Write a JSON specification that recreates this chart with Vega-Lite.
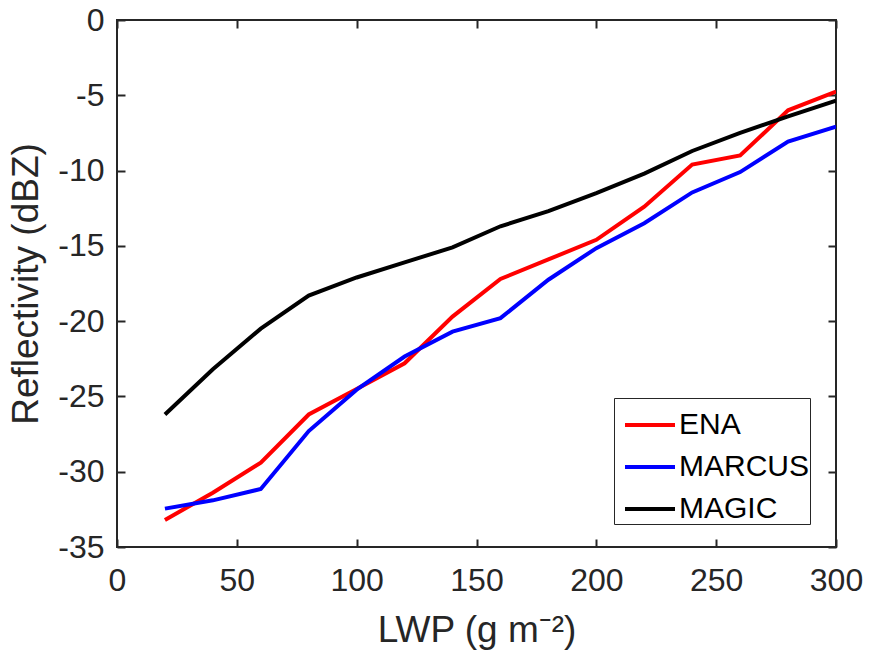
{
  "$schema": "https://vega.github.io/schema/vega-lite/v6.json",
  "width": 719,
  "height": 527,
  "autosize": "none",
  "padding": {"left": 117, "top": 20, "right": 33, "bottom": 111},
  "background": "white",
  "config": {
    "font": "Liberation Sans",
    "view": {"stroke": "#262626", "strokeWidth": 2},
    "axis": {"grid": false, "domain": false, "tickColor": "#262626", "tickWidth": 2, "tickSize": 8, "offset": -8, "labelColor": "#262626", "titleColor": "#262626", "labelFontSize": 32, "titleFontSize": 37, "titleFontWeight": "normal", "labelFont": "Liberation Sans", "titleFont": "Liberation Sans", "labelFlush": false, "labelOverlap": false, "labelExpr": "toString(datum.value)"}
  },
  "data": {"values": [
    {"lwp": 20, "dbz": -33.2, "site": "ENA"},
    {"lwp": 40, "dbz": -31.4, "site": "ENA"},
    {"lwp": 60, "dbz": -29.4, "site": "ENA"},
    {"lwp": 80, "dbz": -26.2, "site": "ENA"},
    {"lwp": 100, "dbz": -24.5, "site": "ENA"},
    {"lwp": 120, "dbz": -22.8, "site": "ENA"},
    {"lwp": 140, "dbz": -19.7, "site": "ENA"},
    {"lwp": 160, "dbz": -17.2, "site": "ENA"},
    {"lwp": 180, "dbz": -15.9, "site": "ENA"},
    {"lwp": 200, "dbz": -14.6, "site": "ENA"},
    {"lwp": 220, "dbz": -12.4, "site": "ENA"},
    {"lwp": 240, "dbz": -9.6, "site": "ENA"},
    {"lwp": 260, "dbz": -9.0, "site": "ENA"},
    {"lwp": 280, "dbz": -6.0, "site": "ENA"},
    {"lwp": 300, "dbz": -4.75, "site": "ENA"},
    {"lwp": 20, "dbz": -32.45, "site": "MARCUS"},
    {"lwp": 40, "dbz": -31.9, "site": "MARCUS"},
    {"lwp": 60, "dbz": -31.15, "site": "MARCUS"},
    {"lwp": 80, "dbz": -27.3, "site": "MARCUS"},
    {"lwp": 100, "dbz": -24.55, "site": "MARCUS"},
    {"lwp": 120, "dbz": -22.35, "site": "MARCUS"},
    {"lwp": 140, "dbz": -20.7, "site": "MARCUS"},
    {"lwp": 160, "dbz": -19.8, "site": "MARCUS"},
    {"lwp": 180, "dbz": -17.25, "site": "MARCUS"},
    {"lwp": 200, "dbz": -15.15, "site": "MARCUS"},
    {"lwp": 220, "dbz": -13.5, "site": "MARCUS"},
    {"lwp": 240, "dbz": -11.45, "site": "MARCUS"},
    {"lwp": 260, "dbz": -10.1, "site": "MARCUS"},
    {"lwp": 280, "dbz": -8.07, "site": "MARCUS"},
    {"lwp": 300, "dbz": -7.08, "site": "MARCUS"},
    {"lwp": 20, "dbz": -26.2, "site": "MAGIC"},
    {"lwp": 40, "dbz": -23.2, "site": "MAGIC"},
    {"lwp": 60, "dbz": -20.5, "site": "MAGIC"},
    {"lwp": 80, "dbz": -18.3, "site": "MAGIC"},
    {"lwp": 100, "dbz": -17.1, "site": "MAGIC"},
    {"lwp": 120, "dbz": -16.1, "site": "MAGIC"},
    {"lwp": 140, "dbz": -15.1, "site": "MAGIC"},
    {"lwp": 160, "dbz": -13.7, "site": "MAGIC"},
    {"lwp": 180, "dbz": -12.7, "site": "MAGIC"},
    {"lwp": 200, "dbz": -11.5, "site": "MAGIC"},
    {"lwp": 220, "dbz": -10.2, "site": "MAGIC"},
    {"lwp": 240, "dbz": -8.7, "site": "MAGIC"},
    {"lwp": 260, "dbz": -7.5, "site": "MAGIC"},
    {"lwp": 280, "dbz": -6.4, "site": "MAGIC"},
    {"lwp": 300, "dbz": -5.35, "site": "MAGIC"}
  ]},
  "layer": [
    {
      "mark": {"type": "line", "strokeWidth": 4, "clip": true},
      "encoding": {
        "x": {"field": "lwp", "type": "quantitative", "scale": {"domain": [0, 300], "nice": false},
          "axis": {"orient": "bottom", "values": [0, 50, 100, 150, 200, 250, 300], "title": "LWP (g m⁻²)", "labelPadding": 18, "titlePadding": 16}},
        "y": {"field": "dbz", "type": "quantitative", "scale": {"domain": [-35, 0], "nice": false, "zero": false},
          "axis": {"orient": "left", "values": [-35, -30, -25, -20, -15, -10, -5, 0], "title": "Reflectivity (dBZ)", "labelPadding": 13, "titlePadding": 12}},
        "color": {"field": "site", "type": "nominal",
          "scale": {"domain": ["ENA", "MARCUS", "MAGIC"], "range": ["#ff0000", "#0000ff", "#000000"]},
          "sort": ["ENA", "MARCUS", "MAGIC"],
          "legend": {"title": null, "orient": "none", "legendX": 497, "legendY": 378, "symbolType": "stroke", "symbolSize": 2500, "symbolStrokeWidth": 4, "symbolOffset": 9, "labelFontSize": 30, "labelColor": "#000000", "labelFont": "Liberation Sans", "strokeColor": "#262626", "fillColor": "white", "padding": 0, "rowPadding": -12.5, "labelOffset": 2, "labelLimit": 300}
        }
      }
    },
    {
      "mark": {"type": "point", "opacity": 0},
      "encoding": {
        "x": {"field": "lwp", "type": "quantitative", "axis": {"orient": "top", "values": [0, 50, 100, 150, 200, 250, 300], "labels": false, "title": null}},
        "y": {"field": "dbz", "type": "quantitative", "axis": {"orient": "right", "values": [-35, -30, -25, -20, -15, -10, -5, 0], "labels": false, "title": null}}
      }
    }
  ],
  "resolve": {"axis": {"x": "independent", "y": "independent"}}
}
